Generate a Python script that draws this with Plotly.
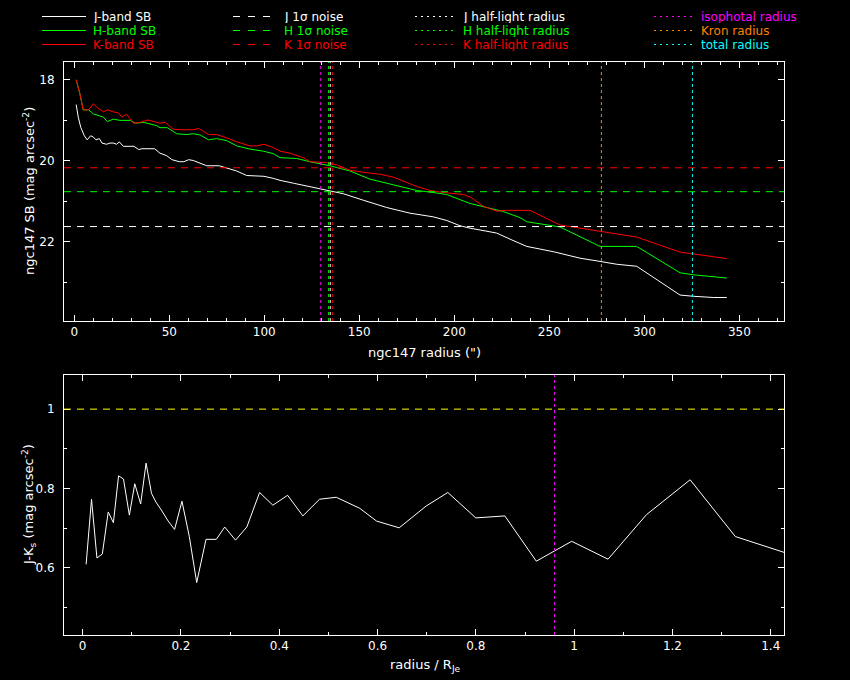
import plotly.graph_objects as go
from plotly.subplots import make_subplots

# surface brightness profiles (radius in arcsec, mag/arcsec^2)
r_j = [1.0, 2.1, 3.4, 5.3, 6.8, 8.6, 10.0, 11.4, 13.2, 14.6, 17.0, 18.8, 20.5, 22.3, 23.7, 25.8, 31.4, 33.9,
       35.6, 42.3, 45.1, 48.6, 51.4, 55.3, 57.7, 60.2, 62.6, 65.8, 69.7, 76.3, 80.2, 85.5, 90.7, 99.8, 104.7,
       108.3, 115.3, 120.5, 129.3, 134.6, 141.6, 152.1, 164.4, 176.7, 188.9, 196.0, 203.0, 208.3, 222.3,
       229.3, 238.1, 252.1, 266.2, 276.7, 285.5, 296.0, 318.8, 325.8, 336.3, 343.4]
sb_j = [18.61, 18.92, 19.17, 19.38, 19.48, 19.38, 19.41, 19.48, 19.45, 19.56, 19.59, 19.56, 19.56, 19.59,
        19.53, 19.64, 19.64, 19.72, 19.70, 19.70, 19.81, 19.87, 19.97, 20.02, 20.02, 19.97, 19.99, 20.04,
        20.12, 20.12, 20.17, 20.25, 20.36, 20.38, 20.43, 20.48, 20.55, 20.60, 20.68, 20.73, 20.81, 20.97,
        21.15, 21.29, 21.38, 21.47, 21.60, 21.66, 21.78, 21.93, 22.11, 22.24, 22.40, 22.48, 22.55, 22.60,
        23.31, 23.34, 23.37, 23.37]

r_h = [1.0, 3.0, 4.7, 7.6, 10.0, 13.5, 15.3, 17.4, 20.5, 24.0, 29.7, 32.1, 36.3, 38.4, 43.4, 45.1, 49.0,
       53.9, 59.2, 62.6, 66.2, 70.7, 74.9, 80.2, 85.5, 92.5, 99.5, 104.7, 108.3, 117.0, 124.0, 134.6, 145.1,
       155.6, 169.7, 180.2, 189.0, 196.0, 208.3, 218.8, 225.8, 234.6, 238.1, 255.6, 276.7, 296.0, 318.8,
       325.8, 336.3, 343.4]
sb_h = [18.00, 18.35, 18.74, 18.74, 18.84, 18.89, 18.92, 19.03, 18.97, 19.00, 19.00, 19.07, 19.05, 19.07,
        19.13, 19.18, 19.18, 19.33, 19.35, 19.33, 19.36, 19.48, 19.45, 19.50, 19.63, 19.71, 19.76, 19.82,
        19.92, 19.94, 20.02, 20.12, 20.25, 20.45, 20.61, 20.73, 20.78, 20.83, 21.05, 21.17, 21.25, 21.40,
        21.50, 21.63, 22.11, 22.11, 22.76, 22.81, 22.86, 22.89]

r_k = [1.0, 3.0, 4.7, 7.6, 10.0, 11.8, 15.3, 17.4, 20.5, 23.4, 25.1, 27.6, 31.1, 34.6, 38.8, 45.1, 47.9,
       52.1, 55.6, 62.6, 65.5, 70.7, 74.9, 80.2, 85.5, 92.5, 96.0, 99.8, 104.7, 108.3, 113.5, 120.5, 124.0,
       132.8, 138.1, 145.1, 152.1, 160.9, 167.9, 174.9, 180.2, 187.2, 194.2, 204.7, 208.3, 215.3, 222.3,
       227.6, 239.8, 255.6, 276.7, 296.0, 318.8, 325.8, 336.3, 343.4]
sb_k = [18.00, 18.35, 18.74, 18.74, 18.59, 18.67, 18.79, 18.74, 18.79, 18.82, 18.92, 18.85, 19.07, 19.05,
        18.99, 19.07, 19.05, 19.22, 19.23, 19.23, 19.20, 19.35, 19.35, 19.43, 19.53, 19.63, 19.63, 19.59,
        19.67, 19.76, 19.81, 19.92, 20.02, 20.04, 20.10, 20.23, 20.28, 20.33, 20.40, 20.53, 20.63, 20.73,
        20.78, 20.83, 20.89, 21.12, 21.24, 21.22, 21.22, 21.58, 21.74, 21.88, 22.25, 22.30, 22.36, 22.41]

noise_jhk = [21.62, 20.76, 20.17]
half_light_jhk = [134.7, 133.9, 135.8]
iso_radius = 129.7
kron_radius = 277.4
total_radius = 325.3

# J-Ks colour vs radius / R_Je
r_norm = [0.007, 0.018, 0.029, 0.040, 0.052, 0.0625, 0.073, 0.083, 0.095, 0.106, 0.118, 0.129, 0.140,
          0.149, 0.160, 0.174, 0.187, 0.202, 0.217, 0.232, 0.251, 0.272, 0.289, 0.311, 0.334, 0.360, 0.387,
          0.417, 0.448, 0.482, 0.516, 0.564, 0.598, 0.644, 0.699, 0.743, 0.800, 0.859, 0.923, 0.995, 1.069,
          1.147, 1.236, 1.328, 1.430]
j_minus_k = [0.609, 0.773, 0.625, 0.635, 0.741, 0.714, 0.832, 0.824, 0.733, 0.812, 0.761, 0.864, 0.788,
             0.766, 0.746, 0.718, 0.697, 0.768, 0.679, 0.563, 0.672, 0.672, 0.703, 0.670, 0.703, 0.790, 0.758,
             0.783, 0.731, 0.773, 0.778, 0.750, 0.718, 0.701, 0.756, 0.790, 0.726, 0.731, 0.617, 0.667, 0.622,
             0.734, 0.822, 0.679, 0.638]
iso_norm = 0.96
colour_ref = 1.0

band_colors = ['white', '#00ff00', '#ff0000']
radius_colors = ['#ff00ff', '#ff8000', '#00ffff']
legend_cols = [
    ['J-band SB', 'H-band SB', 'K-band SB'],
    ['J 1σ noise', 'H 1σ noise', 'K 1σ noise'],
    ['J half-light radius', 'H half-light radius', 'K half-light radius'],
    ['isophotal radius', 'Kron radius', 'total radius'],
]

FONT = 'DejaVu Sans'
W, H = 850, 680

fig = make_subplots(rows=2, cols=1)

for r, sb, c in zip([r_j, r_h, r_k], [sb_j, sb_h, sb_k], band_colors):
    fig.add_trace(go.Scatter(x=r, y=sb, mode='lines', line=dict(color=c, width=1),
                             showlegend=False, hoverinfo='skip'), row=1, col=1)

for val, c in zip(noise_jhk, band_colors):
    fig.add_hline(y=val, line=dict(color=c, width=1, dash='7px,6px'), row=1, col=1)
for val, c in zip([iso_radius, kron_radius, total_radius], radius_colors):
    fig.add_vline(x=val, line=dict(color=c, width=1, dash='dot'), row=1, col=1)
for val, c in zip(half_light_jhk, band_colors):
    fig.add_vline(x=val, line=dict(color=c, width=1, dash='dot'), row=1, col=1)

fig.add_trace(go.Scatter(x=r_norm, y=j_minus_k, mode='lines', line=dict(color='white', width=1),
                         showlegend=False, hoverinfo='skip'), row=2, col=1)
fig.add_hline(y=colour_ref, line=dict(color='#ffff00', width=1, dash='7px,6px'), row=2, col=1)
fig.add_vline(x=iso_norm, line=dict(color='#ff00ff', width=1, dash='dot'), row=2, col=1)

def px_x(p):
    return p / W

def px_y(p):
    return 1 - p / H

axis_style = dict(showline=True, linecolor='white', linewidth=1, mirror='allticks', showgrid=False,
                  zeroline=False, ticks='inside', ticklen=6, tickcolor='white', tickwidth=1,
                  tickfont=dict(family=FONT, size=12, color='white'))

xdom = [px_x(64), px_x(784)]
fig.update_xaxes(axis_style)
fig.update_yaxes(axis_style)
fig.update_layout(
    xaxis=dict(domain=xdom, range=[-5.4, 373.5], dtick=50, tick0=0,
               minor=dict(dtick=10, ticklen=3, ticks='inside', tickcolor='white')),
    yaxis=dict(domain=[px_y(321), px_y(62)], range=[23.95, 17.56], dtick=2, tick0=18,
               ticklabelstandoff=6,
               minor=dict(dtick=1, ticklen=3, ticks='inside', tickcolor='white')),
    xaxis2=dict(domain=xdom, range=[-0.038, 1.427], dtick=0.2, tick0=0,
                minor=dict(dtick=0.1, ticklen=3, ticks='inside', tickcolor='white')),
    yaxis2=dict(domain=[px_y(635), px_y(375)], range=[0.431, 1.086], dtick=0.2, tick0=0,
                ticklabelstandoff=6,
                minor=dict(dtick=0.1, ticklen=3, ticks='inside', tickcolor='white')),
)

# axis titles
titles = [
    ('ngc147 radius (")', 424, 352, 0),
    ('ngc147 SB (mag arcsec<sup>-2</sup>)', 29, 191, -90),
    ('radius / R<sub>Je</sub>', 425, 665, 0),
    ('J-K<sub>s</sub> (mag arcsec<sup>-2</sup>)', 29, 505, -90),
]
for text, x, y, ang in titles:
    fig.add_annotation(text=text, x=px_x(x), y=px_y(y), xref='paper', yref='paper', showarrow=False,
                       textangle=ang, xanchor='center', yanchor='middle',
                       font=dict(family=FONT, size=13, color='white'))

# legend drawn by hand (four columns, three rows)
col_line = [(42, 86), (233, 277), (415, 456), (654, 694)]
col_dash = ['solid', '7px,8px', '2px,4px', '2px,4px']
row_y = [16.5, 30.5, 44.5]
for ci, names in enumerate(legend_cols):
    colors = radius_colors if ci == 3 else band_colors
    x0, x1 = col_line[ci]
    for ri, name in enumerate(names):
        y = px_y(row_y[ri])
        fig.add_shape(type='line', xref='paper', yref='paper', x0=px_x(x0), x1=px_x(x1), y0=y, y1=y,
                      line=dict(color=colors[ri], width=1, dash=col_dash[ci]))
        fig.add_annotation(text=name, x=px_x(x1 + 6), y=y, xref='paper', yref='paper', showarrow=False,
                           xanchor='left', yanchor='middle', height=13, borderpad=0,
                           font=dict(family=FONT, size=12, color=colors[ri]))

fig.update_layout(width=W, height=H, margin=dict(l=0, r=0, t=0, b=0),
                  paper_bgcolor='black', plot_bgcolor='black', showlegend=False)

# page body has a default 8px margin; drop it so the figure sits at the window corner
fig.write_html("out.html", config={'displayModeBar': False},
               post_script="document.body.style.margin='0';")
